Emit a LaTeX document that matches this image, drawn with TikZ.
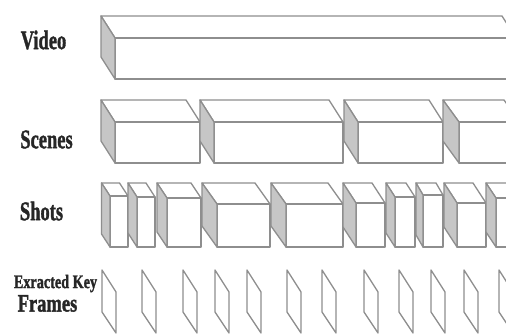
\documentclass[tikz,border=0pt]{standalone}
\usepackage{fontspec}
\setmainfont[BoldFeatures={FakeBold=1.6}]{Liberation Serif}
\definecolor{edgegray}{HTML}{8E8E8E}
\definecolor{sidegray}{HTML}{C6C6C6}
\definecolor{txt}{HTML}{262626}
\newcommand\cuboid[6]{% x0 x1 ytop ybot dx dy
  \draw[edge, fill=white] (#1,#3) -- ({#2-#5},#3) -- (#2,{#3+#6}) -- ({#1+#5},{#3+#6}) -- cycle;
  \draw[edge, fill=white] ({#1+#5},{#3+#6}) rectangle (#2,#4);
  \draw[side] (#1,#3) -- ({#1+#5},{#3+#6}) -- ({#1+#5},#4) -- (#1,{#4-#6}) -- cycle;
}
\newcommand\keyframe[1]{%
  \draw[edge] (#1,270) -- ({#1+14},292) -- ({#1+14},333) -- (#1,312) -- cycle;
}
\begin{document}
\begin{tikzpicture}[x=1pt,y=-1pt,
  edge/.style={draw=edgegray, line width=1.3pt, line join=round},
  side/.style={edge, fill=sidegray},
  lbl/.style={text=txt, inner sep=0pt, anchor=center}]
\useasboundingbox (0,0) rectangle (506,334);
\fill[white] (0,0) rectangle (506,334);
\begin{scope}
\clip (0,0) rectangle (506,334);
% Video
\cuboid{101}{516}{16}{79}{14}{22}
% Scenes
\cuboid{101}{200}{100}{163}{14}{22}
\cuboid{200}{343}{100}{163}{14}{22}
\cuboid{344}{443}{100}{163}{14}{22}
\cuboid{443}{520}{100}{163}{16}{22}
% Shots
\cuboid{101.5}{128}{183}{247}{8.5}{13}
\cuboid{128}{155}{183}{247}{9}{14}
\cuboid{157}{201}{183}{247}{10}{15}
\cuboid{202}{270}{183}{247}{15}{21}
\cuboid{271}{343}{183}{247}{15}{21}
\cuboid{343}{385}{183}{247}{13}{20}
\cuboid{386}{415}{183}{247}{9}{14}
\cuboid{416}{443}{183}{247}{7}{12}
\cuboid{444}{486}{183}{247}{13}{20}
\cuboid{486}{520}{183}{247}{10}{15}
% Key frames
\foreach \x in {102,142,183,215,247,287,322,364,399,431,464,499} {\keyframe{\x}}
\end{scope}
% Labels
\node[lbl] (video) at (43.5,40) {\scalebox{1}[1.45]{\fontsize{18.5}{18}\selectfont\bfseries Video}};
\node[lbl] (scenes) at (46.5,139.5) {\scalebox{1}[1.45]{\fontsize{18.5}{18}\selectfont\bfseries Scenes}};
\node[lbl] (shots) at (41.5,211) {\scalebox{1}[1.45]{\fontsize{18.5}{19}\selectfont\bfseries Shots}};
\node[lbl] (extracted) at (55.5,283.5) {\scalebox{1}[1.35]{\fontsize{14.2}{14}\selectfont\bfseries Exracted Key}};
\node[lbl] (frames) at (47.5,303.5) {\scalebox{1}[1.35]{\fontsize{18.5}{18}\selectfont\bfseries Frames}};
\end{tikzpicture}
\end{document}
